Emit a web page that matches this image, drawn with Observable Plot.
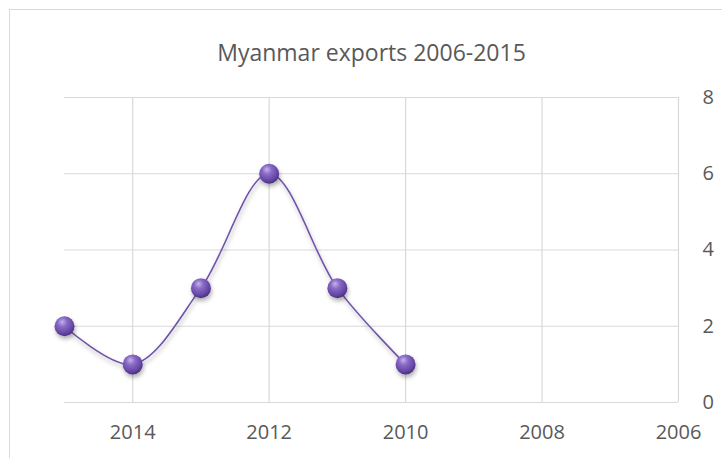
<!DOCTYPE html>
<html>
<head>
<meta charset="utf-8">
<script src="https://cdn.jsdelivr.net/npm/d3@7"></script>
<script src="https://cdn.jsdelivr.net/npm/@observablehq/plot@0.6"></script>
<style>
  html, body { margin: 0; padding: 0; background: #fff; }
  #wrap { position: relative; width: 722px; height: 458px; overflow: hidden; }
  #frame { position: absolute; left: 9px; top: 9px; width: 740px; height: 470px; border: 1px solid #d9d9d9; box-sizing: border-box; }
  #chart { position: absolute; left: 0; top: 0; }
</style>
</head>
<body>
<div id="wrap"><div id="frame"></div><div id="chart"></div></div>
<script>
const title = "Myanmar exports 2006-2015";
const years = [2015, 2014, 2013, 2012, 2011, 2010];
const values = [2, 1, 3, 6, 3, 1];
const xTicks = [2014, 2012, 2010, 2008, 2006];
const yTicks = [0, 2, 4, 6, 8];

const data = years.map((year, i) => ({year, value: values[i]}));

const plot = Plot.plot({
  width: 722,
  height: 458,
  marginLeft: 64,
  marginRight: 44,
  marginTop: 97,
  marginBottom: 56,
  style: {fontFamily: "'Open Sans', sans-serif", fontSize: "20px", color: "#595959", background: "transparent", overflow: "visible"},
  x: {domain: [2015, 2006], ticks: xTicks, tickFormat: "d", label: null},
  y: {domain: [0, 8], ticks: yTicks, label: null},
  marks: [
    Plot.gridY(yTicks, {stroke: "#d9d9d9", strokeOpacity: 1, strokeWidth: 1.2}),
    Plot.gridX(xTicks, {stroke: "#d9d9d9", strokeOpacity: 1, strokeWidth: 1.2}),
    Plot.axisX(xTicks, {tickSize: 0, tickPadding: 22, tickFormat: "d", fill: "#595959", fontSize: 20, label: null}),
    Plot.axisY(yTicks, {anchor: "right", tickSize: 0, tickPadding: 24, textAnchor: "start", fill: "#595959", fontSize: 20, label: null}),
    Plot.line(data, {x: "year", y: "value", curve: "catmull-rom", stroke: "#7153ab", strokeWidth: 1.6}),
    Plot.dot(data, {x: "year", y: "value", r: 10, fill: "url(#sphere)", stroke: "none"}),
    Plot.text([title], {frameAnchor: "top", dy: -53, fontSize: 23, fill: "#595959", fontFamily: "'Open Sans', sans-serif"})
  ]
});

// sphere gradient and shadow
const svg = d3.select(plot);
const defs = svg.insert("defs", ":first-child");
const g = defs.append("radialGradient").attr("id", "sphere").attr("cx", "0.42").attr("cy", "0.35").attr("r", "0.65").attr("fx", "0.38").attr("fy", "0.28");
g.append("stop").attr("offset", "0%").attr("stop-color", "#c6b2ec");
g.append("stop").attr("offset", "35%").attr("stop-color", "#8a6bc7");
g.append("stop").attr("offset", "80%").attr("stop-color", "#6446a3");
g.append("stop").attr("offset", "100%").attr("stop-color", "#4a2f82");
const f = defs.append("filter").attr("id", "shadow").attr("x", "-50%").attr("y", "-50%").attr("width", "200%").attr("height", "200%");
f.append("feDropShadow").attr("dx", 1).attr("dy", 3).attr("stdDeviation", 2).attr("flood-color", "#000").attr("flood-opacity", 0.3);
svg.selectAll("circle").attr("filter", "url(#shadow)");
svg.selectAll("path").each(function() {
  const s = this.getAttribute("stroke") || (this.parentNode && this.parentNode.getAttribute("stroke"));
  if (s === "#7153ab") this.setAttribute("filter", "url(#shadow)");
});

document.getElementById("chart").appendChild(plot);
</script>
</body>
</html>
